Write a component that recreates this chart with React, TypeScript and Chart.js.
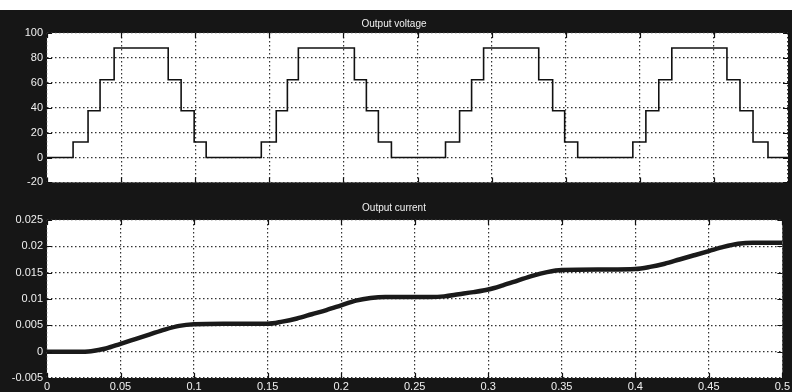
import React, { useEffect, useRef } from 'react';
import { Chart, registerables } from 'chart.js';

Chart.register(...registerables);

// ---- data ----
const timeTicks = [0, 0.05, 0.1, 0.15, 0.2, 0.25, 0.3, 0.35, 0.4, 0.45, 0.5];
const voltageTicks = [-20, 0, 20, 40, 60, 80, 100];
const currentTicks = [-0.005, 0, 0.005, 0.01, 0.015, 0.02, 0.025];

// staircase voltage: level that starts at each switching time
const voltageTimes = [
  0, 0.0176, 0.0277, 0.0358, 0.0453, 0.0818, 0.0905, 0.0993, 0.1074,
  0.1446, 0.1547, 0.1622, 0.1696, 0.2074, 0.2155, 0.2236, 0.2324,
  0.2689, 0.2784, 0.2865, 0.2946, 0.3318, 0.3412, 0.3493, 0.3581,
  0.3953, 0.4041, 0.4128, 0.4216, 0.4588, 0.4676, 0.4764, 0.4865, 0.5,
];
const voltageLevels = [
  0, 12.5, 37.5, 62.5, 88, 62.5, 37.5, 12.5, 0,
  12.5, 37.5, 62.5, 88, 62.5, 37.5, 12.5, 0,
  12.5, 37.5, 62.5, 88, 62.5, 37.5, 12.5, 0,
  12.5, 37.5, 62.5, 88, 62.5, 37.5, 12.5, 0, 0,
];

const currentTimes = [
  0, 0.02, 0.03, 0.04, 0.05, 0.06, 0.07, 0.08, 0.09, 0.1, 0.12, 0.15,
  0.16, 0.17, 0.18, 0.19, 0.2, 0.21, 0.22, 0.23, 0.26, 0.27, 0.28, 0.29,
  0.3, 0.31, 0.32, 0.33, 0.34, 0.35, 0.38, 0.4, 0.41, 0.42, 0.43, 0.44,
  0.45, 0.46, 0.47, 0.48, 0.5,
];
const currentValues = [
  0, 0, 0.0001, 0.0006, 0.0015, 0.0024, 0.0033, 0.0042, 0.0049, 0.0052, 0.0053, 0.0053,
  0.0057, 0.0063, 0.0071, 0.0079, 0.0088, 0.0097, 0.0102, 0.0104, 0.0104, 0.0105, 0.0109, 0.0113,
  0.0118, 0.0126, 0.0135, 0.0144, 0.0151, 0.0155, 0.0156, 0.0157, 0.0161, 0.0167, 0.0175, 0.0183,
  0.0191, 0.0199, 0.0205, 0.0207, 0.0207,
];

const FONT = '"Liberation Sans", Arial, sans-serif';

const scopePlugin = {
  id: 'scope',
  beforeDraw(chart: any) {
    const { ctx, chartArea: a } = chart;
    ctx.save();
    ctx.fillStyle = '#161616';
    ctx.fillRect(0, 0, chart.width, chart.height);
    ctx.fillStyle = '#ffffff';
    ctx.fillRect(a.left, a.top, a.right - a.left, a.bottom - a.top);
    ctx.restore();
  },
  afterDraw(chart: any) {
    const { ctx, chartArea: a, scales } = chart;
    const len = 5;
    ctx.save();
    ctx.strokeStyle = '#111';
    ctx.lineWidth = 1.2;
    ctx.beginPath();
    scales.x.ticks.forEach((t: any) => {
      const px = Math.round(scales.x.getPixelForValue(t.value)) + 0.5;
      ctx.moveTo(px, a.top);
      ctx.lineTo(px, a.top + len);
      ctx.moveTo(px, a.bottom);
      ctx.lineTo(px, a.bottom - len);
    });
    scales.y.ticks.forEach((t: any) => {
      const py = Math.round(scales.y.getPixelForValue(t.value)) + 0.5;
      ctx.moveTo(a.left, py);
      ctx.lineTo(a.left + len, py);
      ctx.moveTo(a.right, py);
      ctx.lineTo(a.right - len, py);
    });
    ctx.stroke();
    ctx.restore();
  },
};

function fmt(v: number) {
  return String(parseFloat(Number(v).toFixed(4)));
}

function baseOptions(opts: {
  title: string;
  titlePad: { top: number; bottom: number };
  yMin: number;
  yMax: number;
  yTicks: number[];
  showX: boolean;
  xHeight: number;
  padBottom: number;
}) {
  const grid = {
    color: '#333',
    lineWidth: 1.2,
    drawTicks: false,
  } as any;
  const border = { display: false, dash: [1.5, 2.5] };
  return {
    responsive: false,
    animation: false as const,
    devicePixelRatio: 1,
    layout: { padding: { left: 0, right: 4, top: 0, bottom: opts.padBottom } },
    plugins: {
      legend: { display: false },
      tooltip: { enabled: false },
      title: {
        display: true,
        text: opts.title,
        color: '#f0f0f0',
        font: { family: FONT, size: 10, weight: 'normal' as const, lineHeight: 1.2 },
        padding: opts.titlePad,
      },
    },
    scales: {
      x: {
        type: 'linear' as const,
        min: 0,
        max: 0.5,
        border,
        grid,
        afterBuildTicks: (s: any) => {
          s.ticks = timeTicks.map((v) => ({ value: v }));
        },
        afterFit: (s: any) => {
          s.height = opts.xHeight;
        },
        ticks: {
          display: opts.showX,
          color: '#f0f0f0',
          padding: 2,
          maxRotation: 0,
          autoSkip: false,
          font: { family: FONT, size: 11 },
          callback: (v: any) => fmt(v),
        },
      },
      y: {
        type: 'linear' as const,
        min: opts.yMin,
        max: opts.yMax,
        border,
        grid,
        afterBuildTicks: (s: any) => {
          s.ticks = opts.yTicks.map((v) => ({ value: v }));
        },
        afterFit: (s: any) => {
          s.width = 47;
        },
        ticks: {
          color: '#f0f0f0',
          padding: 4,
          autoSkip: false,
          font: { family: FONT, size: 11 },
          callback: (v: any) => fmt(v),
        },
      },
    },
  };
}

export default function App() {
  const topRef = useRef<HTMLCanvasElement>(null);
  const botRef = useRef<HTMLCanvasElement>(null);

  useEffect(() => {
    const top = new Chart(topRef.current as HTMLCanvasElement, {
      type: 'line',
      data: {
        datasets: [
          {
            data: voltageTimes.map((t, i) => ({ x: t, y: voltageLevels[i] })),
            borderColor: '#111',
            borderWidth: 1.6,
            pointRadius: 0,
            stepped: 'before',
            fill: false,
          },
        ],
      },
      options: baseOptions({
        title: 'Output voltage',
        titlePad: { top: 8, bottom: 3 },
        yMin: -20,
        yMax: 100,
        yTicks: voltageTicks,
        showX: false,
        xHeight: 0,
        padBottom: 1,
      }) as any,
      plugins: [scopePlugin],
    });
    const bot = new Chart(botRef.current as HTMLCanvasElement, {
      type: 'line',
      data: {
        datasets: [
          {
            data: currentTimes.map((t, i) => ({ x: t, y: currentValues[i] })),
            borderColor: '#1a1a1a',
            borderWidth: 4.5,
            pointRadius: 0,
            cubicInterpolationMode: 'monotone',
            fill: false,
          },
        ],
      },
      options: baseOptions({
        title: 'Output current',
        titlePad: { top: 9, bottom: 6 },
        yMin: -0.005,
        yMax: 0.025,
        yTicks: currentTicks,
        showX: true,
        xHeight: 14,
        padBottom: 0,
      }) as any,
      plugins: [scopePlugin],
    });
    return () => {
      top.destroy();
      bot.destroy();
    };
  }, []);

  return (
    <div
      style={{
        position: 'fixed',
        left: 0,
        top: 0,
        width: 792,
        height: 392,
        background: '#ffffff',
        overflow: 'hidden',
      }}
    >
      <canvas
        ref={topRef}
        width={792}
        height={183}
        style={{ position: 'absolute', left: 0, top: 10, width: 792, height: 183, display: 'block' }}
      />
      <canvas
        ref={botRef}
        width={792}
        height={199}
        style={{ position: 'absolute', left: 0, top: 193, width: 792, height: 199, display: 'block' }}
      />
    </div>
  );
}
